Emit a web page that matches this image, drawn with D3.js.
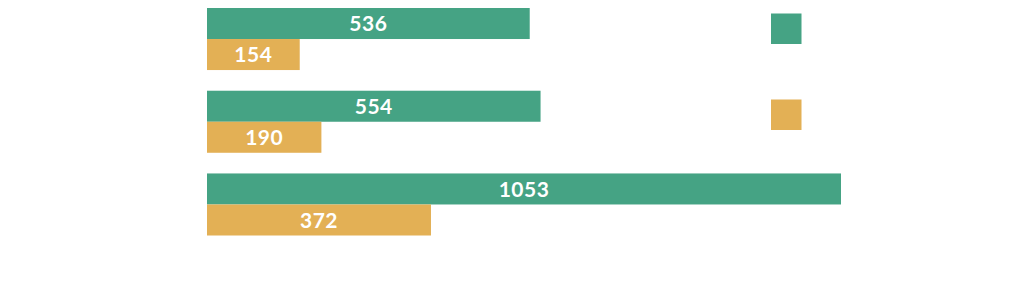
<!DOCTYPE html>
<html>
<head>
<meta charset="utf-8">
<script src="https://cdn.jsdelivr.net/npm/d3@7"></script>
<style>
  body { margin: 0; background: #fff; }
  svg { display: block; }
</style>
</head>
<body>
<svg id="chart" width="1024" height="294"></svg>
<script>
const categories = ['A', 'B', 'C']
const seriesNames = ['Series 1', 'Series 2']
const series1 = [536, 554, 1053]
const series2 = [154, 190, 372]
const colors = ['#45a384', '#e3b055']

const svg = d3.select('#chart')

const x = d3.scaleLinear()
  .domain([0, d3.max(series1)])
  .range([207, 841])

const y = d3.scaleBand()
  .domain(categories)
  .range([8, 235.5])
  .paddingInner(0.25)

const sub = d3.scaleBand()
  .domain(seriesNames)
  .range([0, y.bandwidth()])

const rows = categories.flatMap((c, i) => [
  { cat: c, s: seriesNames[0], v: series1[i], color: colors[0] },
  { cat: c, s: seriesNames[1], v: series2[i], color: colors[1] }
])

svg.selectAll('.bar')
  .data(rows)
  .enter().append('rect')
  .attr('class', 'bar')
  .attr('x', x(0))
  .attr('y', d => y(d.cat) + sub(d.s))
  .attr('width', d => x(d.v) - x(0))
  .attr('height', sub.bandwidth())
  .attr('fill', d => d.color)

svg.selectAll('.label')
  .data(rows)
  .enter().append('text')
  .attr('class', 'label')
  .attr('x', d => (x(0) + x(d.v)) / 2)
  .attr('y', d => y(d.cat) + sub(d.s) + sub.bandwidth() / 2)
  .attr('dy', '0.36em')
  .attr('text-anchor', 'middle')
  .attr('fill', '#fff')
  .style('font-family', 'Lato, "Open Sans", sans-serif')
  .style('font-weight', 'bold')
  .style('font-size', '21px')
  .style('letter-spacing', '0.5px')
  .text(d => d.v)

// legend swatches (labels are white in the source)
const legend = svg.selectAll('.legend')
  .data(seriesNames)
  .enter().append('g')
  .attr('class', 'legend')
  .attr('transform', (d, i) => `translate(771,${13.5 + i * 86})`)

legend.append('rect')
  .attr('width', 30.5)
  .attr('height', 30.5)
  .attr('fill', (d, i) => colors[i])
</script>
</body>
</html>
